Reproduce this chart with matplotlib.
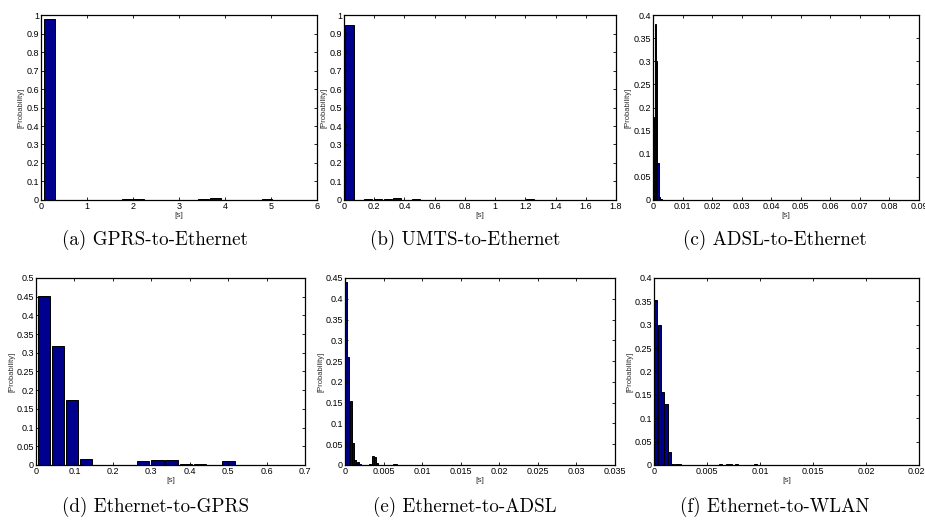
import numpy as np
import matplotlib
matplotlib.use('Agg')
import matplotlib.pyplot as plt
from matplotlib.ticker import FuncFormatter

# (a) GPRS-to-Ethernet
gprs_eth_x = [0.19, 1.87, 2.12, 3.53, 3.80, 4.91]
gprs_eth_p = [0.978, 0.004, 0.004, 0.003, 0.010, 0.003]

# (b) UMTS-to-Ethernet
umts_eth_x = [0.036, 0.10, 0.16, 0.225, 0.29, 0.35, 0.41, 0.475, 0.54, 0.72, 0.97, 1.23, 1.48, 1.70]
umts_eth_p = [0.948, 0.002, 0.005, 0.008, 0.003, 0.012, 0.002, 0.004, 0.001, 0.001, 0.001, 0.004, 0.001, 0.001]

# (c) ADSL-to-Ethernet
adsl_eth_x = [0.00025, 0.00075, 0.00125, 0.00175, 0.00225, 0.00275]
adsl_eth_p = [0.18, 0.38, 0.30, 0.08, 0.006, 0.002]

# (d) Ethernet-to-GPRS
eth_gprs_x = [0.020, 0.057, 0.094, 0.131, 0.168, 0.205, 0.242, 0.279, 0.316,
              0.353, 0.390, 0.427, 0.464, 0.501, 0.538, 0.575]
eth_gprs_p = [0.452, 0.318, 0.175, 0.015, 0.001, 0.001, 0.001, 0.010, 0.0125,
              0.0125, 0.004, 0.0035, 0.0005, 0.0098, 0.0005, 0.0005]

# (e) Ethernet-to-ADSL
eth_adsl_x = [0.00015, 0.00045, 0.00075, 0.00105, 0.00135, 0.00165, 0.00195,
              0.0033, 0.0036, 0.0039, 0.0042, 0.0063, 0.0066, 0.0071]
eth_adsl_p = [0.44, 0.26, 0.155, 0.053, 0.012, 0.007, 0.002,
              0.003, 0.022, 0.019, 0.005, 0.003, 0.002, 0.001]

# (f) Ethernet-to-WLAN
eth_wlan_x = [0.00018, 0.0005, 0.00082, 0.00114, 0.00146, 0.00178, 0.0021, 0.00242,
              0.0036, 0.0048, 0.0057, 0.0063, 0.0069, 0.0072, 0.0078, 0.0087, 0.0096]
eth_wlan_p = [0.352, 0.300, 0.156, 0.131, 0.028, 0.003, 0.003, 0.002,
              0.001, 0.001, 0.001, 0.002, 0.003, 0.002, 0.002, 0.001, 0.003]

captions = ['(a) GPRS-to-Ethernet', '(b) UMTS-to-Ethernet', '(c) ADSL-to-Ethernet',
            '(d) Ethernet-to-GPRS', '(e) Ethernet-to-ADSL', '(f) Ethernet-to-WLAN']

# x, p, bar width, xmax, xstep, ymax, ystep, axes rect
panels = [
    (gprs_eth_x, gprs_eth_p, 0.23, 6, 1, 1.0, 0.1, [0.0443, 0.6176, 0.2984, 0.3537]),
    (umts_eth_x, umts_eth_p, 0.055, 1.8, 0.2, 1.0, 0.1, [0.3719, 0.6176, 0.2940, 0.3537]),
    (adsl_eth_x, adsl_eth_p, 0.00045, 0.09, 0.01, 0.4, 0.05, [0.7059, 0.6176, 0.2876, 0.3537]),
    (eth_gprs_x, eth_gprs_p, 0.032, 0.7, 0.1, 0.5, 0.05, [0.0389, 0.1109, 0.2908, 0.3576]),
    (eth_adsl_x, eth_adsl_p, 0.00026, 0.035, 0.005, 0.45, 0.05, [0.3730, 0.1109, 0.2919, 0.3576]),
    (eth_wlan_x, eth_wlan_p, 0.0003, 0.025, 0.005, 0.4, 0.05, [0.7070, 0.1109, 0.2865, 0.3576]),
]
caption_pos = [(0.168, 0.541), (0.503, 0.541), (0.838, 0.541),
               (0.168, 0.031), (0.503, 0.031), (0.838, 0.031)]

fmt = FuncFormatter(lambda v, _: '%g' % round(v, 6))

fig = plt.figure(figsize=(9.25, 5.23), dpi=100)
for (x, p, w, xmax, xstep, ymax, ystep, rect), cap, cpos in zip(panels, captions, caption_pos):
    ax = fig.add_axes(rect)
    ax.bar(x, p, width=w, color='#00008F', edgecolor='black', linewidth=0.7)
    ax.set_xlim(0, xmax)
    ax.set_ylim(0, ymax)
    ax.set_xticks(np.round(np.arange(0, xmax + xstep / 2, xstep), 6))
    ax.set_yticks(np.round(np.arange(0, ymax + ystep / 2, ystep), 6))
    ax.xaxis.set_major_formatter(fmt)
    ax.yaxis.set_major_formatter(fmt)
    ax.tick_params(direction='in', length=2.5, width=0.6, top=True, right=True,
                   labelsize=6.5, pad=1.5)
    for lab in ax.get_xticklabels() + ax.get_yticklabels():
        lab.set_family('Liberation Sans')
    for s in ax.spines.values():
        s.set_linewidth(0.9)
    ax.set_xlabel('[s]', fontsize=6, family='Liberation Sans', labelpad=0.5, color='#333333')
    ax.set_ylabel('[Probability]', fontsize=5.5, family='Liberation Sans', labelpad=1, color='#333333')
    fig.text(cpos[0], cpos[1], cap, ha='center', va='center', fontsize=13.7, family='cmr10')

fig.savefig('out.png', dpi=100)
